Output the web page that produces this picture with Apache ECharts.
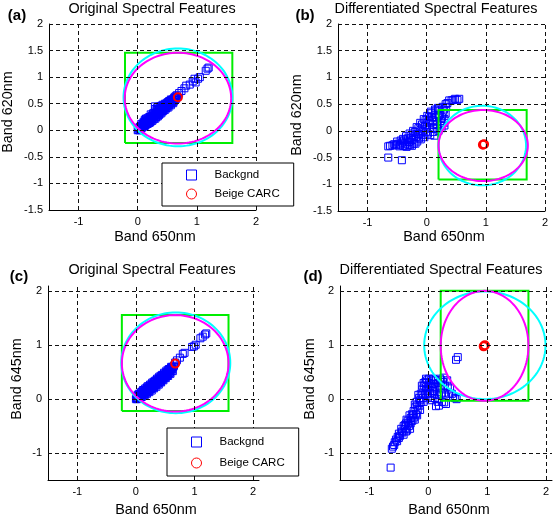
<!DOCTYPE html>
<html>
<head>
<meta charset="utf-8">
<script src="https://cdn.jsdelivr.net/npm/echarts@6/dist/echarts.min.js"></script>
<style>
html,body{margin:0;padding:0;background:#fff;}
#chart{width:553px;height:517px;}
</style>
</head>
<body>
<div id="chart"></div>
<script>
// ---------- DATA ----------
const panelTitles = ['Original Spectral Features', 'Differentiated Spectral Features', 'Original Spectral Features', 'Differentiated Spectral Features'];
const panelLetters = ['(a)', '(b)', '(c)', '(d)'];
const xNames = ['Band 650nm', 'Band 650nm', 'Band 650nm', 'Band 650nm'];
const yNames = ['Band 620nm', 'Band 620nm', 'Band 645nm', 'Band 645nm'];
const legendNames = ['Backgnd', 'Beige CARC'];
const xTickValues = [-1, 0, 1, 2];
const yTickValuesAB = [-1.5, -1, -0.5, 0, 0.5, 1, 1.5, 2];
const yTickValuesCD = [-1, 0, 1, 2];

// background points (Backgnd)
const bgA = [[0.00,0.00],[0.02,0.04],[0.04,0.02],[0.05,0.08],[0.07,0.05],[0.08,0.11],[0.10,0.07],[0.11,0.14],[0.12,0.20],[0.13,0.10],[0.15,0.17],[0.16,0.22],[0.17,0.12],[0.19,0.20],[0.20,0.25],[0.21,0.15],[0.23,0.23],[0.24,0.28],[0.25,0.18],[0.27,0.26],[0.28,0.33],[0.29,0.45],[0.30,0.22],[0.31,0.30],[0.32,0.38],[0.33,0.43],[0.34,0.26],[0.35,0.33],[0.36,0.40],[0.37,0.30],[0.38,0.45],[0.39,0.36],[0.40,0.32],[0.41,0.42],[0.42,0.48],[0.43,0.36],[0.44,0.40],[0.45,0.45],[0.46,0.50],[0.47,0.39],[0.48,0.44],[0.50,0.48],[0.51,0.53],[0.52,0.43],[0.54,0.50],[0.55,0.55],[0.56,0.47],[0.58,0.53],[0.59,0.58],[0.60,0.51],[0.62,0.57],[0.63,0.61],[0.65,0.60],[0.66,0.66],[0.70,0.70],[0.74,0.74],[0.79,0.79],[0.82,0.84],[0.88,0.86],[0.93,0.92],[0.96,0.97],[0.98,0.90],[1.02,0.97],[1.05,1.00],[1.15,1.12],[1.18,1.16],[1.20,1.18],
  [0.01,0.01],[0.03,0.06],[0.06,0.03],[0.06,0.12],[0.09,0.09],[0.10,0.16],[0.12,0.08],[0.14,0.15],[0.14,0.22],[0.16,0.13],[0.18,0.18],[0.18,0.24],[0.20,0.14],[0.22,0.21],[0.22,0.30],[0.24,0.20],[0.26,0.24],[0.26,0.32],[0.28,0.22],[0.30,0.28],[0.30,0.40],[0.32,0.26],[0.33,0.34],[0.35,0.44],[0.36,0.29],[0.38,0.38],[0.40,0.46],[0.41,0.35],[0.43,0.44],[0.45,0.38],[0.47,0.47],[0.49,0.42],[0.50,0.52],[0.53,0.47],[0.53,0.55],[0.57,0.50],[0.57,0.57],[0.61,0.54],[0.61,0.60],[0.64,0.58],[0.64,0.64],[0.67,0.63],
  [0.03,0.00],[0.05,0.05],[0.08,0.06],[0.09,0.13],[0.11,0.11],[0.13,0.18],[0.15,0.11],[0.17,0.19],[0.19,0.15],[0.21,0.24],[0.23,0.17],[0.25,0.27],[0.27,0.21],[0.29,0.31],[0.31,0.25],[0.33,0.30],[0.34,0.38],[0.37,0.34],[0.39,0.42],[0.42,0.39],[0.44,0.47],[0.46,0.42],[0.48,0.50],[0.51,0.46],[0.52,0.50],[0.55,0.51],[0.56,0.58],[0.59,0.55],[0.62,0.62],[0.66,0.62]];
const bgB = [[-0.65,-0.29],[-0.62,-0.28],[-0.58,-0.27],[-0.55,-0.25],[-0.52,-0.27],[-0.48,-0.24],[-0.45,-0.26],[-0.42,-0.22],[-0.40,-0.28],[-0.38,-0.18],[-0.36,-0.24],[-0.34,-0.30],[-0.32,-0.14],[-0.30,-0.21],[-0.28,-0.27],[-0.26,-0.08],[-0.24,-0.17],[-0.22,-0.24],[-0.20,-0.02],[-0.18,-0.12],[-0.16,-0.20],[-0.14,0.05],[-0.12,-0.06],[-0.10,-0.16],[-0.08,0.12],[-0.06,0.00],[-0.04,-0.12],[-0.02,0.20],[0.00,0.08],[0.02,-0.05],[0.04,0.26],[0.05,0.15],[0.06,-0.08],[0.08,0.33],[0.10,0.20],[0.12,0.05],[0.13,-0.09],[0.15,0.38],[0.16,0.26],[0.18,0.12],[0.20,0.00],[0.21,0.42],[0.22,0.30],[0.24,0.18],[0.25,0.05],[0.27,0.45],[0.28,0.33],[0.30,0.22],[0.30,0.10],[0.32,0.50],[0.38,0.57],[0.45,0.58],[0.52,0.58],[-0.65,-0.50],[-0.42,-0.55],
  [-0.50,-0.20],[-0.46,-0.29],[-0.44,-0.18],[-0.40,-0.15],[-0.37,-0.28],[-0.35,-0.10],[-0.33,-0.20],[-0.31,-0.26],[-0.29,-0.05],[-0.27,-0.14],[-0.25,-0.28],[-0.23,0.00],[-0.21,-0.10],[-0.19,-0.24],[-0.17,0.07],[-0.15,-0.05],[-0.13,-0.14],[-0.11,0.15],[-0.09,0.04],[-0.07,-0.08],[-0.05,0.22],[-0.03,0.10],[-0.01,-0.02],[0.01,0.28],[0.03,0.18],[0.05,0.04],[0.07,0.36],[0.09,0.25],[0.11,0.12],[0.11,-0.02],[0.14,0.40],[0.14,0.30],[0.17,0.18],[0.17,0.04],[0.19,0.43],[0.20,0.28],[0.23,0.38],[0.23,0.10],[0.26,0.25],[0.29,0.40],[0.29,0.15],[0.32,0.32],[0.33,0.44],[0.35,0.52],[0.42,0.57],[0.48,0.60],[0.55,0.60]];
const bgC = [[0.00,0.00],[0.02,0.05],[0.04,0.02],[0.05,0.10],[0.07,0.06],[0.09,0.13],[0.10,0.04],[0.11,0.09],[0.12,0.17],[0.14,0.12],[0.15,0.07],[0.16,0.20],[0.18,0.15],[0.19,0.10],[0.20,0.24],[0.22,0.18],[0.23,0.13],[0.24,0.27],[0.26,0.22],[0.27,0.16],[0.28,0.31],[0.30,0.25],[0.31,0.20],[0.32,0.34],[0.34,0.29],[0.35,0.23],[0.36,0.38],[0.38,0.32],[0.39,0.27],[0.40,0.42],[0.42,0.36],[0.43,0.31],[0.44,0.45],[0.46,0.40],[0.47,0.35],[0.48,0.49],[0.50,0.44],[0.51,0.39],[0.52,0.53],[0.54,0.48],[0.55,0.43],[0.56,0.56],[0.58,0.52],[0.59,0.47],[0.60,0.60],[0.62,0.56],[0.63,0.52],[0.65,0.62],[0.67,0.68],[0.70,0.72],[0.75,0.77],[0.80,0.84],[0.83,0.86],[0.96,0.97],[0.99,0.98],[1.02,1.01],[1.10,1.13],[1.14,1.16],[1.18,1.20],[1.20,1.22],
  [0.01,0.02],[0.03,0.08],[0.06,0.04],[0.08,0.09],[0.10,0.14],[0.13,0.07],[0.13,0.15],[0.15,0.18],[0.17,0.11],[0.17,0.17],[0.19,0.22],[0.21,0.14],[0.21,0.21],[0.23,0.25],[0.25,0.18],[0.25,0.25],[0.27,0.29],[0.29,0.21],[0.29,0.28],[0.31,0.32],[0.33,0.25],[0.33,0.32],[0.35,0.36],[0.37,0.29],[0.37,0.35],[0.39,0.40],[0.41,0.32],[0.41,0.39],[0.43,0.43],[0.45,0.36],[0.45,0.42],[0.47,0.46],[0.49,0.40],[0.49,0.46],[0.51,0.50],[0.53,0.44],[0.53,0.50],[0.55,0.54],[0.57,0.48],[0.57,0.54],[0.59,0.57],[0.61,0.53],[0.61,0.58],[0.64,0.60],
  [0.02,0.00],[0.04,0.06],[0.07,0.10],[0.09,0.06],[0.12,0.12],[0.14,0.09],[0.16,0.16],[0.18,0.13],[0.20,0.19],[0.22,0.15],[0.24,0.22],[0.26,0.19],[0.28,0.26],[0.30,0.22],[0.32,0.29],[0.34,0.26],[0.36,0.33],[0.38,0.29],[0.40,0.37],[0.42,0.33],[0.44,0.40],[0.46,0.37],[0.48,0.44],[0.50,0.41],[0.52,0.47],[0.54,0.45],[0.56,0.51],[0.58,0.49],[0.60,0.55],[0.62,0.60]];
const bgD = [[-0.64,-1.27],[0.47,0.73],[0.50,0.78],[-0.62,-0.92],[-0.60,-0.88],[-0.58,-0.85],[-0.55,-0.75],[-0.52,-0.70],[-0.50,-0.64],[-0.48,-0.68],[-0.45,-0.60],[-0.42,-0.66],[-0.40,-0.55],[-0.42,-0.50],[-0.38,-0.45],[-0.36,-0.58],[-0.35,-0.40],[-0.33,-0.50],[-0.30,-0.35],[-0.30,-0.45],[-0.28,-0.28],[-0.27,-0.40],[-0.25,-0.22],[-0.24,-0.34],[-0.22,-0.15],[-0.21,-0.28],[-0.20,-0.05],[-0.18,-0.20],[-0.16,0.02],[-0.15,-0.12],[-0.13,0.10],[-0.12,-0.05],[-0.10,0.18],[-0.09,0.02],[-0.07,0.25],[-0.06,0.08],[-0.05,0.32],[-0.03,0.15],[-0.02,0.35],[0.00,0.22],[0.00,0.05],[0.02,0.30],[0.03,0.12],[0.05,0.35],[0.06,0.20],[0.07,0.02],[0.09,0.28],[0.10,0.10],[0.12,0.35],[0.13,-0.13],[0.14,0.18],[0.15,0.00],[0.17,0.30],[0.18,0.08],[0.20,0.38],[0.21,0.20],[0.23,-0.05],[0.25,0.32],[0.27,0.12],[0.30,0.05],[0.30,-0.09],[0.33,0.25],[0.37,0.20],[0.40,0.10],[0.45,0.02],[0.48,0.00],
  [-0.57,-0.80],[-0.53,-0.78],[-0.50,-0.72],[-0.46,-0.55],[-0.44,-0.62],[-0.40,-0.48],[-0.38,-0.60],[-0.37,-0.38],[-0.34,-0.45],[-0.32,-0.30],[-0.31,-0.55],[-0.29,-0.40],[-0.26,-0.30],[-0.23,-0.10],[-0.23,-0.38],[-0.19,-0.12],[-0.19,-0.30],[-0.17,0.08],[-0.14,-0.02],[-0.14,-0.20],[-0.11,0.25],[-0.11,0.08],[-0.08,0.30],[-0.08,-0.05],[-0.04,0.38],[-0.04,0.22],[-0.01,0.10],[0.01,0.38],[0.04,0.25],[0.04,-0.02],[0.08,0.38],[0.08,0.15],[0.11,0.22],[0.11,0.02],[0.16,0.35],[0.16,-0.05],[0.19,0.25],[0.22,0.35],[0.22,0.10],[0.26,0.40],[0.28,0.25],[0.32,0.35],[0.35,0.10],[0.42,0.05],[0.18,-0.12],[0.27,-0.06]];

// target points (Beige CARC)
const carcA = [[0.68,0.62]];
const carcB = [[0.95,-0.26],[0.97,-0.25]];
const carcC = [[0.67,0.66]];
const carcD = [[0.94,0.98],[0.96,1.00]];

// green box: [xmin, ymin, xmax, ymax]
const boxA = [[-0.215,-0.24,1.6,1.46]];
const boxB = [[0.2,-0.91,1.69,0.39]];
const boxC = [[-0.24,-0.22,1.58,1.56]];
const boxD = [[0.21,-0.03,1.7,2.01]];
// cyan circle: [cx, cy, rx, ry]
const cyanA = [[0.68,0.62,0.92,0.92]];
const cyanB = [[0.94,-0.275,0.74,0.745]];
const cyanC = [[0.68,0.675,0.93,0.935]];
const cyanD = [[0.96,1.0,1.03,1.0]];
// magenta ellipse: [cx, cy, rx, ry]
const magA = [[0.68,0.605,0.9,0.855]];
const magB = [[0.955,-0.275,0.755,0.665]];
const magC = [[0.67,0.665,0.91,0.895]];
const magD = [[0.955,0.99,0.745,1.02]];

// ---------- CHART ----------
const FONT = 'Liberation Sans, Arial, Helvetica, sans-serif';
const grids = [
  {left:49, top:24, width:207, height:186},
  {left:338, top:24, width:207, height:187},
  {left:48, top:286, width:211, height:194},
  {left:340, top:286, width:212, height:194}
];
const xMax = [2, 2, 2.1, 2.1];
const yMax = [2, 2, 2.1, 2.1];
const yTicks = [yTickValuesAB, yTickValuesAB, yTickValuesCD, yTickValuesCD];

const xAxes = grids.map((g,i) => ({
  type:'value', gridIndex:i, min:-1.5, max:xMax[i],
  axisLine:{show:true, onZero:false, lineStyle:{color:'#000', width:1}},
  axisTick:{show:true, inside:true, length:4, lineStyle:{color:'#000'}, customValues:xTickValues},
  axisLabel:{color:'#000', fontSize:11, fontFamily:FONT, margin:6, customValues:xTickValues},
  splitLine:{show:false}
}));
const yAxes = grids.map((g,i) => ({
  type:'value', gridIndex:i, min:-1.5, max:yMax[i],
  axisLine:{show:true, onZero:false, lineStyle:{color:'#000', width:1}},
  axisTick:{show:true, inside:true, length:4, lineStyle:{color:'#000'}, customValues:yTicks[i]},
  axisLabel:{color:'#000', fontSize:11, fontFamily:FONT, margin:6, customValues:yTicks[i]},
  splitLine:{show:false}
}));

function gridLineSeries(i){
  const lines = [];
  xTickValues.forEach(v => lines.push({xAxis:v}));
  yTicks[i].filter(v => v > -1.5).forEach(v => lines.push({yAxis:v}));
  return {
    type:'scatter', xAxisIndex:i, yAxisIndex:i, data:[], silent:true, z:1,
    markLine:{silent:true, symbol:['none','none'], label:{show:false}, animation:false,
      lineStyle:{color:'#111', width:1, type:[4,3]}, emphasis:{disabled:true}, data:lines}
  };
}
function ellipseSeries(i, data, color){
  return {
    type:'custom', xAxisIndex:i, yAxisIndex:i, data:data, silent:true, z:3,
    encode:{x:0, y:1},
    renderItem:function(params, api){
      const cx = api.value(0), cy = api.value(1), rx = api.value(2), ry = api.value(3);
      const pts = [];
      for (let k = 0; k <= 120; k++){
        const t = 2*Math.PI*k/120;
        pts.push(api.coord([cx + rx*Math.cos(t), cy + ry*Math.sin(t)]));
      }
      return {type:'polyline', shape:{points:pts}, style:{fill:null, stroke:color, lineWidth:2}};
    }
  };
}
function boxSeries(i, data, color){
  return {
    type:'custom', xAxisIndex:i, yAxisIndex:i, data:data, silent:true, z:3,
    encode:{x:0, y:1},
    renderItem:function(params, api){
      const x0 = api.value(0), y0 = api.value(1), x1 = api.value(2), y1 = api.value(3);
      const pts = [api.coord([x0,y0]), api.coord([x1,y0]), api.coord([x1,y1]), api.coord([x0,y1]), api.coord([x0,y0])];
      return {type:'polyline', shape:{points:pts}, style:{fill:null, stroke:color, lineWidth:2}};
    }
  };
}
function bgSeries(i, data){
  return {type:'scatter', name:legendNames[0], xAxisIndex:i, yAxisIndex:i, data:data, symbol:'rect', symbolSize:7,
    itemStyle:{color:'rgba(0,0,0,0)', borderColor:'#0000ff', borderWidth:1, opacity:1}, z:2};
}
function carcSeries(i, data){
  return {type:'scatter', name:legendNames[1], xAxisIndex:i, yAxisIndex:i, data:data, symbol:'circle', symbolSize:8,
    itemStyle:{color:'rgba(0,0,0,0)', borderColor:'#ff0000', borderWidth:2, opacity:1}, z:4};
}

const bgs = [bgA, bgB, bgC, bgD], carcs = [carcA, carcB, carcC, carcD];
const boxes = [boxA, boxB, boxC, boxD], cyans = [cyanA, cyanB, cyanC, cyanD], mags = [magA, magB, magC, magD];
const series = [];
for (let i = 0; i < 4; i++){
  series.push(gridLineSeries(i));
  series.push(bgSeries(i, bgs[i]));
  series.push(boxSeries(i, boxes[i], '#00ee00'));
  series.push(ellipseSeries(i, cyans[i], '#00ffff'));
  series.push(ellipseSeries(i, mags[i], '#ff00ff'));
  series.push(carcSeries(i, carcs[i]));
}

function legendCfg(left, top, padding, gap){
  return {
    show:true, orient:'vertical', left:left, top:top, padding:padding, itemGap:gap,
    itemWidth:10, itemHeight:10, borderColor:'#000', borderWidth:1, backgroundColor:'#fff', borderRadius:0,
    selectedMode:false, z:10,
    textStyle:{color:'#000', fontSize:11.5, fontFamily:FONT, padding:[0,0,0,13]},
    data:[
      {name:legendNames[0], icon:'rect', itemStyle:{color:'rgba(0,0,0,0)', borderColor:'#0000ff', borderWidth:1}},
      {name:legendNames[1], icon:'circle', itemStyle:{color:'rgba(0,0,0,0)', borderColor:'#ff0000', borderWidth:1}}
    ]
  };
}

function txt(x, y, text, opts){
  return Object.assign({
    type:'text', x:x, y:y, z:20,
    style:Object.assign({text:text, fill:'#000', font: (opts && opts.font) || ('14.4px ' + FONT),
      textAlign:'center', textVerticalAlign:'middle', align:'center', verticalAlign:'middle'}, (opts && opts.style) || {})
  }, (opts && opts.el) || {});
}
const titlePos = [[152,9.5],[436,9.5],[152,270],[441,270]];
const letterPos = [[17,16],[305,16],[19,277],[313,277]];
const xNamePos = [[155,237],[444,237],[156,510],[449,510]];
const yNamePos = [[8,112],[297,115],[17.5,379],[310,379]];
const graphics = [];
for (let i = 0; i < 4; i++){
  graphics.push(txt(titlePos[i][0], titlePos[i][1], panelTitles[i]));
  graphics.push(txt(letterPos[i][0], letterPos[i][1], panelLetters[i], {font:'bold 15px ' + FONT}));
  graphics.push(txt(xNamePos[i][0], xNamePos[i][1], xNames[i]));
  graphics.push(txt(yNamePos[i][0], yNamePos[i][1], yNames[i], {el:{rotation:Math.PI/2}}));
}

const chart = echarts.init(document.getElementById('chart'), null, {renderer:'canvas'});
chart.setOption({
  animation:false,
  backgroundColor:'#fff',
  grid:grids,
  xAxis:xAxes,
  yAxis:yAxes,
  legend:[legendCfg(162, 163, [6,14,6,24], 7), legendCfg(167, 428, [8,14,7,24], 9)],
  graphic:graphics,
  series:series
});
</script>
</body>
</html>
